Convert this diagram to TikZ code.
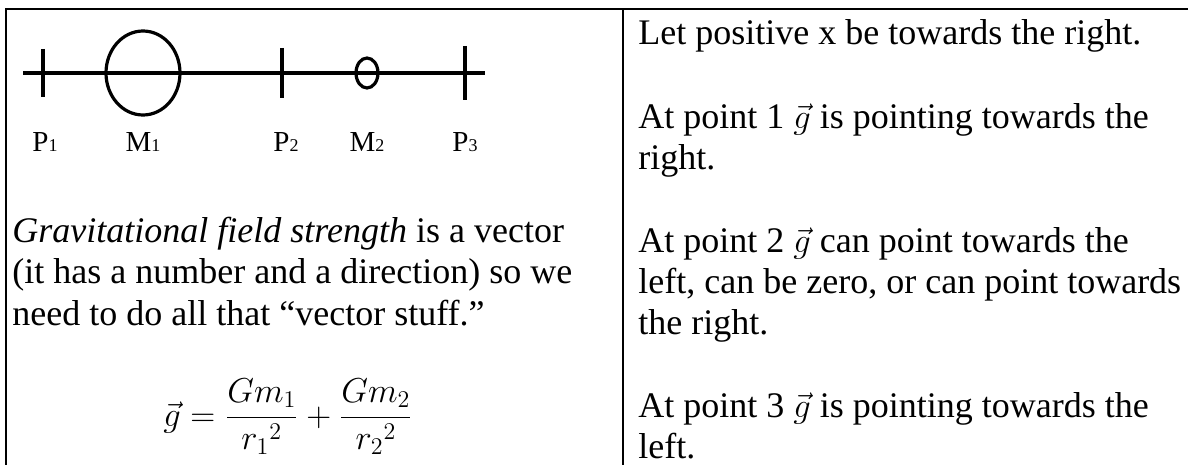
\documentclass[tikz,border=0pt]{standalone}
\usepackage{fontspec}
\setmainfont{Liberation Serif}
\newcommand{\lbl}[2]{#1{\fontsize{9}{10}\selectfont #2}}
\tikzset{
  body/.style={anchor=base west, align=left, inner sep=0pt, font=\fontsize{18}{20.7}\selectfont},
  cellrule/.style={line width=1pt},
  axisline/.style={line width=1.6pt},
  masslabel/.style={anchor=base, inner sep=0pt, font=\fontsize{14.5}{16}\selectfont},
}
\begin{document}
\begin{tikzpicture}[x=0.5pt, y=-0.5pt]
  \useasboundingbox (0,0) rectangle (1190,465);
  % table rules
  \draw[cellrule] (6,465) -- (6,9) -- (1188,9);
  \draw[cellrule] (623,9) -- (623,465);
  % the line with the two masses
  \coordinate (p1) at (43,73);
  \coordinate (m1) at (143,73);
  \coordinate (p2) at (282,73);
  \coordinate (m2) at (367,73);
  \coordinate (p3) at (465,73);
  \draw[axisline] (23,73) -- (485,73);
  \draw[axisline] (p1) ++(0,-24) -- ++(0,48);
  \draw[axisline] (p2) ++(0,-25) -- ++(0,50);
  \draw[axisline] (p3) ++(0,-27) -- ++(0,54);
  \draw[axisline] (m1) ellipse [x radius=18.5pt, y radius=21pt];
  \draw[axisline] (m2) ellipse [x radius=5.5pt, y radius=7.5pt];
  \node[masslabel] (lp1) at (45,152) {\lbl{P}{1}};
  \node[masslabel] (lm1) at (143,152) {\lbl{M}{1}};
  \node[masslabel] (lp2) at (286,152) {\lbl{P}{2}};
  \node[masslabel] (lm2) at (367,152) {\lbl{M}{2}};
  \node[masslabel] (lp3) at (465,152) {\lbl{P}{3}};
  % left cell (base = last line)
  \node[body] (vector) at (12,325) {\textit{Gravitational field strength} is a vector\\
    (it has a number and a direction) so we\\
    need to do all that ``vector stuff.''};
  \node[anchor=base west, inner sep=0pt, font=\fontsize{17}{20}\selectfont] (sum) at (163,426)
    {$\displaystyle \vec{g} = \frac{Gm_1}{{r_1}^2} + \frac{Gm_2}{{r_2}^2}$};
  % right cell
  \node[body] (positive) at (638,45) {Let positive x be towards the right.};
  \node[body] (point1) at (638,169.5) {At point 1 $\vec{g}$ is pointing towards the\\ right.};
  \node[body] (point2) at (638,335) {At point 2 $\vec{g}$ can point towards the\\
    left, can be zero, or can point towards\\ the right.};
  \node[body] (point3) at (638,458.5) {At point 3 $\vec{g}$ is pointing towards the\\ left.};
\end{tikzpicture}
\end{document}
